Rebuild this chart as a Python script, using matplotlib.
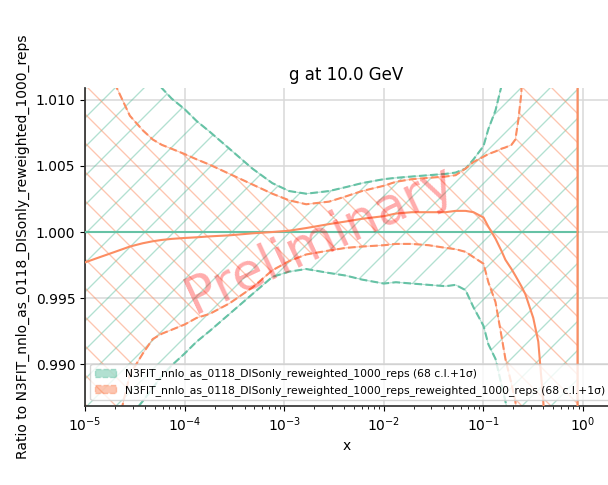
"""Ratio plot of the gluon PDF at 10 GeV, reweighted fit vs DIS-only reference
"""
import numpy as np
import matplotlib
matplotlib.use('Agg')
import matplotlib.pyplot as plt
import matplotlib.patches as mpatches
from matplotlib.ticker import MultipleLocator, FormatStrFormatter

# the original has coarse hatching, so render at a higher dpi and shrink
# every size in points so that text and lines keep their 100 dpi pixel size
DPI = 174
S = 100 / DPI

params = {
    'font.size': 10 * S,
    'axes.titlesize': 12 * S,
    'axes.labelsize': 10 * S,
    'xtick.labelsize': 10 * S,
    'ytick.labelsize': 10 * S,
    'legend.fontsize': 7.8 * S,
    'lines.linewidth': 1.5 * S,
    'axes.linewidth': 1.25 * S,
    'patch.linewidth': 1.0 * S,
    'hatch.linewidth': 0.55,
    'axes.titlepad': 6 * S,
    'axes.labelpad': 4 * S,
    'xtick.major.size': 3.5 * S,
    'ytick.major.size': 3.5 * S,
    'xtick.minor.size': 2 * S,
    'xtick.major.width': 0.8 * S,
    'ytick.major.width': 0.8 * S,
    'xtick.minor.width': 0.6 * S,
    'xtick.major.pad': 3.5 * S,
    'ytick.major.pad': 3.5 * S,
    'grid.linewidth': 1.1 * S,
    'grid.color': '#d9d9d9',
    'axes.axisbelow': True,
}
plt.rcParams.update(params)

# x grid and values
x = [1.0e-5, 1.41e-5, 2.0e-5, 2.82e-5, 3.8e-5, 4.79e-5, 5.89e-5, 7.41e-5, 1.0e-4,
     1.32e-4, 1.78e-4, 2.82e-4, 4.79e-4, 7.59e-4, 1.12e-3, 1.66e-3, 2.82e-3,
     4.17e-3, 6.03e-3, 1.0e-2, 1.32e-2, 1.91e-2, 2.82e-2, 4.17e-2, 5.25e-2,
     6.61e-2, 7.94e-2, 0.1, 0.112, 0.132, 0.151, 0.166, 0.191, 0.209, 0.224,
     0.240, 0.263, 0.316, 0.355, 0.398, 0.501, 0.631, 0.741, 0.87, 0.89]

# reference fit (ratio to itself)
ref_cv = np.ones(len(x))
ref_up = [1.0185, 1.0170, 1.0155, 1.0140, 1.0127, 1.0118, 1.0109, 1.0101, 1.0093,
          1.0084, 1.0076, 1.0063, 1.0048, 1.0037, 1.0031, 1.0029, 1.0031, 1.0034,
          1.0037, 1.0040, 1.0041, 1.0042, 1.0043, 1.0044, 1.0045, 1.0048, 1.0055,
          1.0065, 1.0078, 1.0092, 1.0110, 1.0120, 1.0140, 1.016, 1.018, 1.020,
          1.023, 1.030, 1.035, 1.040, 1.060, 1.090, 1.130, 1.200, 1.250]
ref_dn = [0.9815, 0.9830, 0.9845, 0.9860, 0.9872, 0.9882, 0.9891, 0.9899, 0.9908,
          0.9917, 0.9925, 0.9938, 0.9953, 0.9966, 0.9970, 0.9972, 0.9969, 0.9967,
          0.9964, 0.9961, 0.9962, 0.9961, 0.9960, 0.9959, 0.9960, 0.9956, 0.9943,
          0.9929, 0.9915, 0.9904, 0.9885, 0.9872, 0.9850, 0.984, 0.982, 0.980,
          0.977, 0.970, 0.965, 0.960, 0.940, 0.910, 0.870, 0.800, 0.750]

# reweighted fit
rw_cv = [0.9977, 0.9981, 0.9985, 0.9989, 0.99915, 0.9993, 0.9994, 0.99948, 0.99955,
         0.9996, 0.99967, 0.99975, 0.9999, 1.0000, 1.0001, 1.0003, 1.0006, 1.0008,
         1.0010, 1.0012, 1.0014, 1.0015, 1.0015, 1.0015, 1.0016, 1.0016, 1.0015,
         1.0011, 1.0004, 0.9995, 0.9986, 0.9979, 0.9972, 0.9967, 0.9963, 0.9959,
         0.9953, 0.9935, 0.9917, 0.9872, 0.975, 0.94, 0.90, 0.50, 1.60]
rw_up = [1.0180, 1.0145, 1.0112, 1.0088, 1.0077, 1.0070, 1.0066, 1.0063, 1.0059,
         1.0055, 1.0051, 1.0044, 1.0036, 1.0029, 1.0024, 1.0021, 1.0023, 1.0027,
         1.0031, 1.0035, 1.0038, 1.0040, 1.0041, 1.0042, 1.0043, 1.0048, 1.0053,
         1.0057, 1.0059, 1.0061, 1.0063, 1.0064, 1.0066, 1.0070, 1.0085, 1.0105,
         1.0200, 1.030, 1.040, 1.050, 1.080, 1.120, 1.180, 1.300, 1.500]
rw_dn = [0.975, 0.979, 0.9845, 0.9892, 0.9908, 0.9919, 0.9923, 0.9926, 0.9930,
         0.9935, 0.9938, 0.9946, 0.9958, 0.9971, 0.9978, 0.9983, 0.9986, 0.9988,
         0.9989, 0.9990, 0.9991, 0.9991, 0.9990, 0.9988, 0.9987, 0.9985, 0.9981,
         0.9976, 0.9962, 0.9947, 0.9922, 0.9904, 0.9885, 0.9872, 0.985, 0.982,
         0.978, 0.970, 0.960, 0.950, 0.920, 0.880, 0.820, 0.700, 0.500]

labels = ['N3FIT_nnlo_as_0118_DISonly_reweighted_1000_reps (68 c.l.+1σ)',
          'N3FIT_nnlo_as_0118_DISonly_reweighted_1000_reps_reweighted_1000_reps (68 c.l.+1σ)']
colors = ['#66c2a5', '#fc8d62']
hatches = ['//', '\\\\']

fig = plt.figure(figsize=(608 / DPI, 485 / DPI), dpi=DPI)
ax = fig.add_axes([85 / 608, 79.5 / 485, 523 / 608, 317.5 / 485])

handles = []
for cv, up, dn, color, hatch in zip([ref_cv, rw_cv], [ref_up, rw_up], [ref_dn, rw_dn],
                                    colors, hatches):
    ax.fill_between(x, dn, up, facecolor='none', edgecolor=color, alpha=0.5,
                    hatch=hatch, linewidth=0.8 * S, zorder=1)
    ax.plot(x, up, linestyle='--', color=color, zorder=2)
    ax.plot(x, dn, linestyle='--', color=color, zorder=2)
    ax.plot(x, cv, color=color, zorder=3)
    handles.append(mpatches.Patch(facecolor=color, edgecolor=color, alpha=0.5,
                                  hatch=hatch, linestyle='--', linewidth=1.0 * S))

ax.set_xscale('log')
ax.set_xlim(1e-5, 10 ** 0.25)
ax.set_ylim(0.98687, 1.0109)
ax.yaxis.set_major_locator(MultipleLocator(0.005))
ax.yaxis.set_major_formatter(FormatStrFormatter('%.3f'))
ax.grid(True, which='major')
for side in ['top', 'right']:
    ax.spines[side].set_visible(False)
for side in ['left', 'bottom']:
    ax.spines[side].set_color('#333333')

ax.set_title('g at 10.0 GeV')
ax.set_xlabel('x')
ax.set_ylabel('Ratio to N3FIT_nnlo_as_0118_DISonly_reweighted_1000_reps')
ax.legend(handles, labels, loc='lower left')

ax.text(0.45, 0.52, 'Preliminary', transform=ax.transAxes, fontsize=37 * S,
        color='red', alpha=0.33, rotation=25, ha='center', va='center', zorder=5)

fig.savefig('out.png', dpi=DPI)
